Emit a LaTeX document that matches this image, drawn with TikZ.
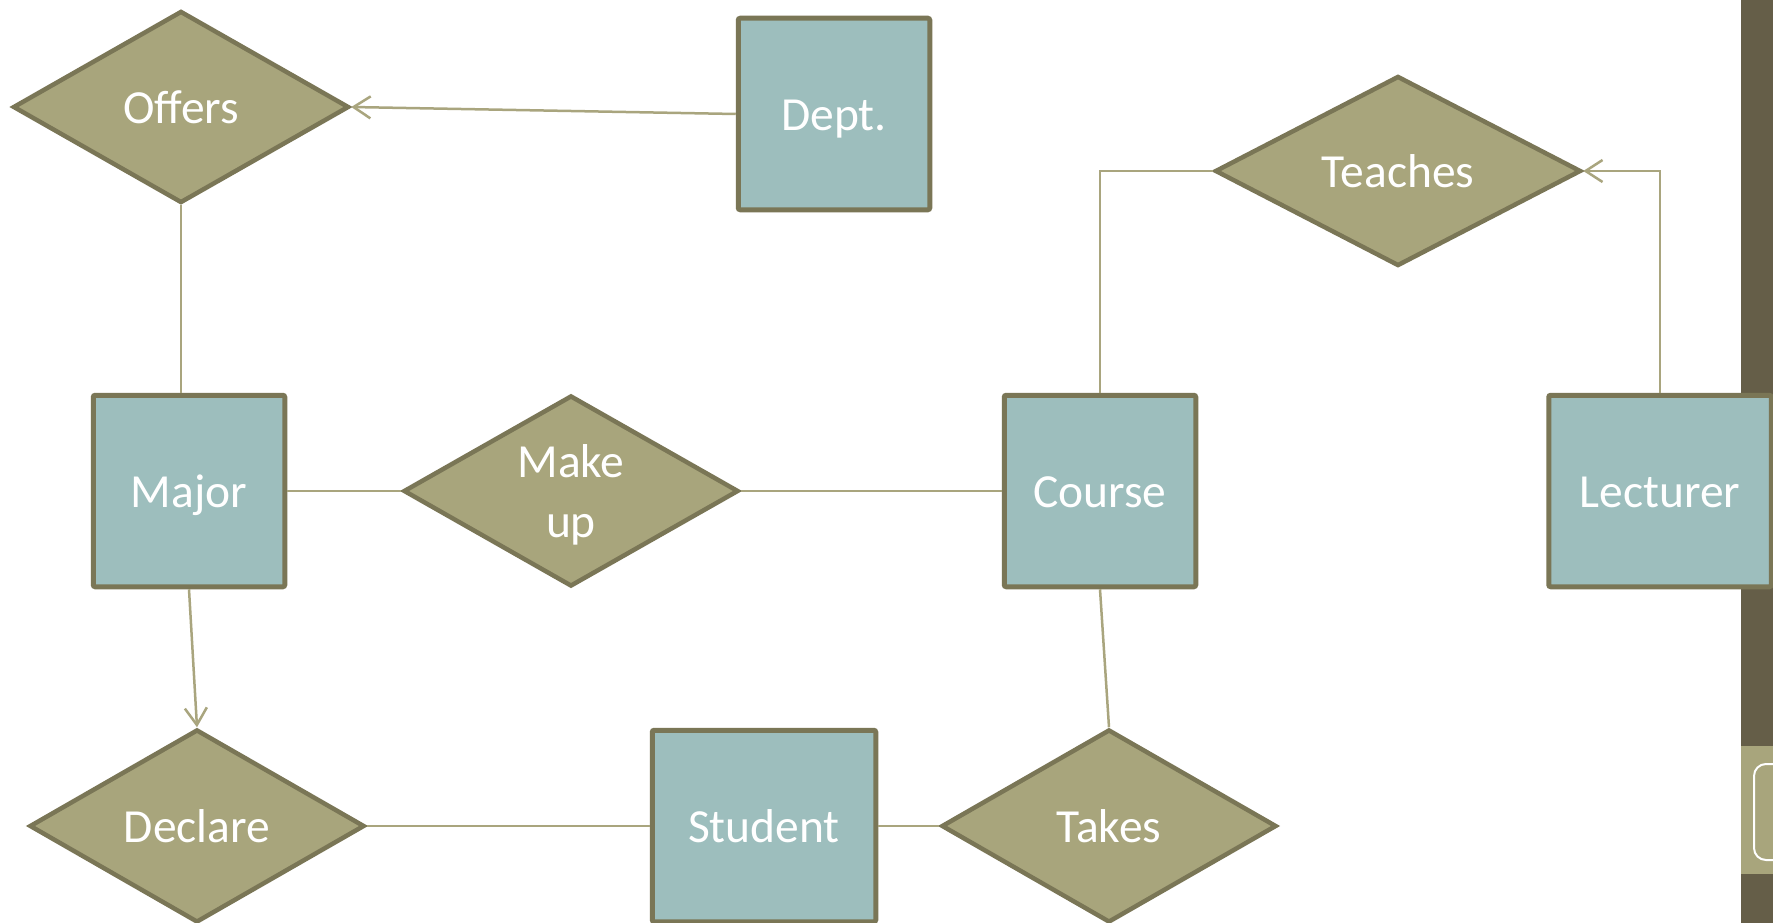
\documentclass[tikz,border=0pt]{standalone}
\usepackage{fontspec}
\setmainfont{Carlito}
\usetikzlibrary{shapes.geometric,arrows.meta}

\definecolor{boxfill}{HTML}{9DBEBD}
\definecolor{relfill}{HTML}{A8A57C}
\definecolor{edgecol}{HTML}{7A7656}
\definecolor{linkcol}{HTML}{A9A57E}
\definecolor{bandcol}{HTML}{655E48}
\definecolor{tabcol}{HTML}{A8A57C}

\pgfdeclareradialshading{bgfade}{\pgfpoint{0bp}{0bp}}{%
  color(0bp)=(white); color(15bp)=(white); color(25bp)=(black!10); color(50bp)=(black!10)}

\tikzset{
  label font/.style={text=white, font=\fontsize{47.5}{60}\selectfont},
  one line/.style={text height=42.75pt, text depth=10.45pt},
  entity/.style={rectangle, draw=edgecol, fill=boxfill, line width=5pt,
    rounded corners=2pt, minimum height=191.5pt, minimum width=191.5pt,
    inner sep=0pt, label font, one line},
  relation/.style={diamond, aspect=1.9, draw=edgecol, fill=relfill, line width=4.5pt,
    inner sep=0pt, label font, one line},
  link/.style={draw=linkcol, line width=2.5pt},
  arr/.style={link, -{Straight Barb[length=17pt,width=22pt]}}
}

\begin{document}
\begin{tikzpicture}[x=1pt,y=-1pt]
  \useasboundingbox (0,0) rectangle (1773,923);
  \begin{scope}
    \clip (0,0) rectangle (1773,923);
    % page background with a soft fade towards the lower right
    \fill[white] (0,0) rectangle (1773,923);
    \shade[shading=bgfade] (300,150) circle[radius=3400pt];
    % side band
    \fill[bandcol] (1741,0) rectangle (1773,923);
    \fill[tabcol] (1741,746) rectangle (1773,874);
    \draw[white, line width=2pt, rounded corners=12pt] (1754,764) rectangle (1800,860);

    % relationships
    \node[relation, minimum width=336pt, minimum height=192pt] (offers) at (181,107) {Offers};
    \node[relation, minimum width=366pt, minimum height=190pt] (teaches) at (1398,171) {Teaches};
    \node[relation, minimum width=335pt, minimum height=191pt,
      label={[label font, align=center, yshift=-3.5pt]center:Make\\up}] (makeup) at (571,491) {};
    \node[relation, minimum width=335pt, minimum height=193pt] (declare) at (197,826) {Declare};
    \node[relation, minimum width=335pt, minimum height=193pt] (takes) at (1109,826) {Takes};

    % entities
    \node[entity] (dept) at (834,114) {Dept.};
    \node[entity] (major) at (189,491) {Major};
    \node[entity] (course) at (1100,491) {Course};
    \node[entity, minimum width=222.5pt] (lecturer) at (1660,491) {Lecturer};
    \node[entity, minimum width=223.5pt] (student) at (764,826) {Student};

    % connectors
    \draw[arr] (dept.west) -- (offers.east);
    \draw[link] (offers.south) -- (offers.south |- major.north);
    \draw[link] (major.east) -- (makeup.west);
    \draw[link] (makeup.east) -- (course.west);
    \draw[link] (course.north) |- (teaches.west);
    \draw[arr] (lecturer.north) |- (teaches.east);
    \draw[arr] (major.south) -- (declare.north);
    \draw[link] (course.south) -- (takes.north);
    \draw[link] (declare.east) -- (student.west);
    \draw[link] (student.east) -- (takes.west);
  \end{scope}
\end{tikzpicture}
\end{document}
